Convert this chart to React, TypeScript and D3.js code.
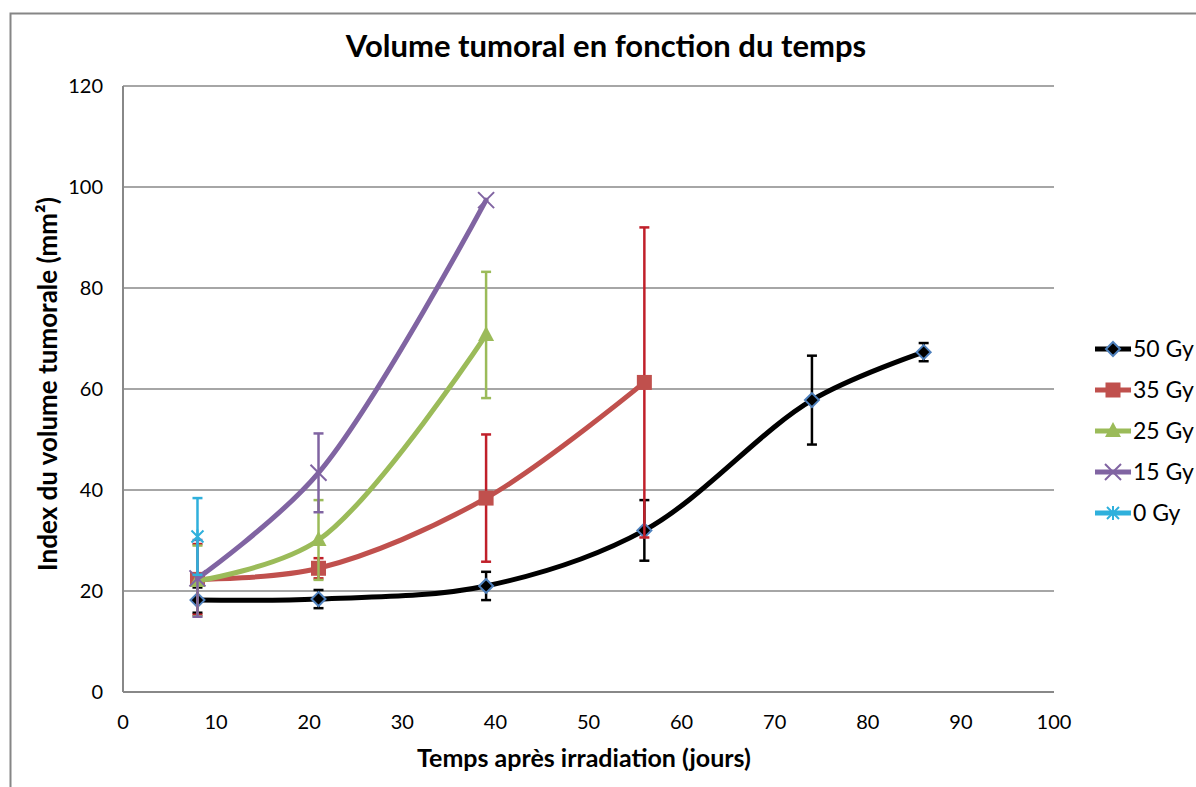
import React from "react";
import * as d3 from "d3";

const W = 1196;
const H = 787;

const xTicks = [0, 10, 20, 30, 40, 50, 60, 70, 80, 90, 100];
const yTicks = [0, 20, 40, 60, 80, 100, 120];

const days50 = [8, 21, 39, 56, 74, 86];
const vol50 = [18.2, 18.4, 21, 32, 57.8, 67.3];
const err50 = [2.5, 1.8, 2.8, 6, 8.8, 1.8];

const days35 = [8, 21, 39, 56];
const vol35 = [22.3, 24.5, 38.4, 61.3];
const err35 = [7, 2, 12.6, 30.7];

const days25 = [8, 21, 39];
const vol25 = [22, 30.1, 70.7];
const err25 = [7, 7.9, 12.5];

const days15 = [8, 21, 39];
const vol15 = [22.5, 43.4, 97.4];
const err15 = [7.6, 7.8, 0];

const days0 = [8];
const vol0 = [30.8];
const err0 = [7.6];

type Series = { name: string; color: string; marker: string; x: number[]; y: number[]; e: number[] };

const series: Series[] = [
  { name: "50 Gy", color: "#000000", marker: "diamond", x: days50, y: vol50, e: err50 },
  { name: "35 Gy", color: "#c0504d", marker: "square", x: days35, y: vol35, e: err35 },
  { name: "25 Gy", color: "#9bbb59", marker: "triangle", x: days25, y: vol25, e: err25 },
  { name: "15 Gy", color: "#8064a2", marker: "x", x: days15, y: vol15, e: err15 },
  { name: "0 Gy", color: "#2fb0dc", marker: "star", x: days0, y: vol0, e: err0 },
];

const errColor: Record<string, string> = {
  "50 Gy": "#000000",
  "35 Gy": "#c0202a",
  "25 Gy": "#9bbb59",
  "15 Gy": "#8064a2",
  "0 Gy": "#2fb0dc",
};

const left = 123, right = 1054, top = 86, bottom = 692;
const xs = d3.scaleLinear().domain([0, 100]).range([left, right]);
const ys = d3.scaleLinear().domain([0, 120]).range([bottom, top]);

function Marker({ kind, cx, cy, color }: { kind: string; cx: number; cy: number; color: string }) {
  if (kind === "diamond") {
    const r = 7;
    return <path d={`M${cx},${cy - r}L${cx + r},${cy}L${cx},${cy + r}L${cx - r},${cy}Z`} fill="#000" stroke="#4f81bd" strokeWidth={2} />;
  }
  if (kind === "square") {
    const s = 15;
    return <rect x={cx - s / 2} y={cy - s / 2} width={s} height={s} fill={color} />;
  }
  if (kind === "triangle") {
    const r = 8;
    return <path d={`M${cx},${cy - r - 1}L${cx + r},${cy + r - 2}L${cx - r},${cy + r - 2}Z`} fill={color} />;
  }
  if (kind === "x") {
    const r = 8;
    return <path d={`M${cx - r},${cy - r}L${cx + r},${cy + r}M${cx - r},${cy + r}L${cx + r},${cy - r}`} stroke={color} strokeWidth={2} />;
  }
  const r = 6;
  return <path d={`M${cx - r},${cy - r}L${cx + r},${cy + r}M${cx - r},${cy + r}L${cx + r},${cy - r}M${cx},${cy - r - 1}L${cx},${cy + r + 1}`} stroke={color} strokeWidth={2} />;
}

export default function App() {
  const line = d3.line<[number, number]>().x(d => xs(d[0])).y(d => ys(d[1])).curve(d3.curveCatmullRom.alpha(0.5));
  const font = "Lato, 'Open Sans', sans-serif";
  return (
    <svg width={W} height={H} style={{ position: "absolute", left: 0, top: 0, background: "#fff" }} fontFamily={font}>
      <rect x={10.5} y={13.5} width={W + 20} height={H + 20} fill="none" stroke="#868686" strokeWidth={2} />
      <text x={606} y={57} textAnchor="middle" fontSize={31} fontWeight="bold" fill="#000">Volume tumoral en fonction du temps</text>
      {yTicks.map(t => (
        <g key={"y" + t}>
          {t > 0 && <line x1={left} x2={right} y1={ys(t)} y2={ys(t)} stroke="#888" strokeWidth={1.5} />}
          <text x={103} y={ys(t) + 7} textAnchor="end" fontSize={20} fill="#000">{t}</text>
        </g>
      ))}
      <line x1={left} x2={right} y1={bottom} y2={bottom} stroke="#888" strokeWidth={2} />
      <line x1={left} x2={left} y1={top} y2={bottom} stroke="#888" strokeWidth={2} />
      {xTicks.map(t => (
        <text key={"x" + t} x={xs(t)} y={729} textAnchor="middle" fontSize={20} fill="#000">{t}</text>
      ))}
      <text x={584} y={767} textAnchor="middle" fontSize={25} fontWeight="bold">Temps après irradiation (jours)</text>
      <text transform={`translate(57,384) rotate(-90)`} textAnchor="middle" fontSize={26} fontWeight="bold">Index du volume tumorale (mm²)</text>
      {series.map(s => {
        const pts = s.x.map((x, i) => [x, s.y[i]] as [number, number]);
        const ec = errColor[s.name];
        return (
          <g key={s.name}>
            {s.x.map((x, i) => s.e[i] > 0 && (
              <g key={i} stroke={ec} strokeWidth={2.5}>
                <line x1={xs(x)} x2={xs(x)} y1={ys(s.y[i] - s.e[i])} y2={ys(s.y[i] + s.e[i])} />
                <line x1={xs(x) - 5} x2={xs(x) + 5} y1={ys(s.y[i] - s.e[i])} y2={ys(s.y[i] - s.e[i])} />
                <line x1={xs(x) - 5} x2={xs(x) + 5} y1={ys(s.y[i] + s.e[i])} y2={ys(s.y[i] + s.e[i])} />
              </g>
            ))}
            {pts.length > 1 && <path d={line(pts) || ""} fill="none" stroke={s.color} strokeWidth={5} strokeLinecap="round" />}
            {pts.map((p, i) => <Marker key={i} kind={s.marker} cx={xs(p[0])} cy={ys(p[1])} color={s.color} />)}
          </g>
        );
      })}
      {series.map((s, i) => {
        const ly = 349 + i * 41;
        return (
          <g key={"l" + s.name}>
            <line x1={1095} x2={1131} y1={ly} y2={ly} stroke={s.color} strokeWidth={5} />
            <Marker kind={s.marker} cx={1113} cy={ly} color={s.color} />
            <text x={1133} y={ly + 8} fontSize={23}>{s.name}</text>
          </g>
        );
      })}
    </svg>
  );
}
